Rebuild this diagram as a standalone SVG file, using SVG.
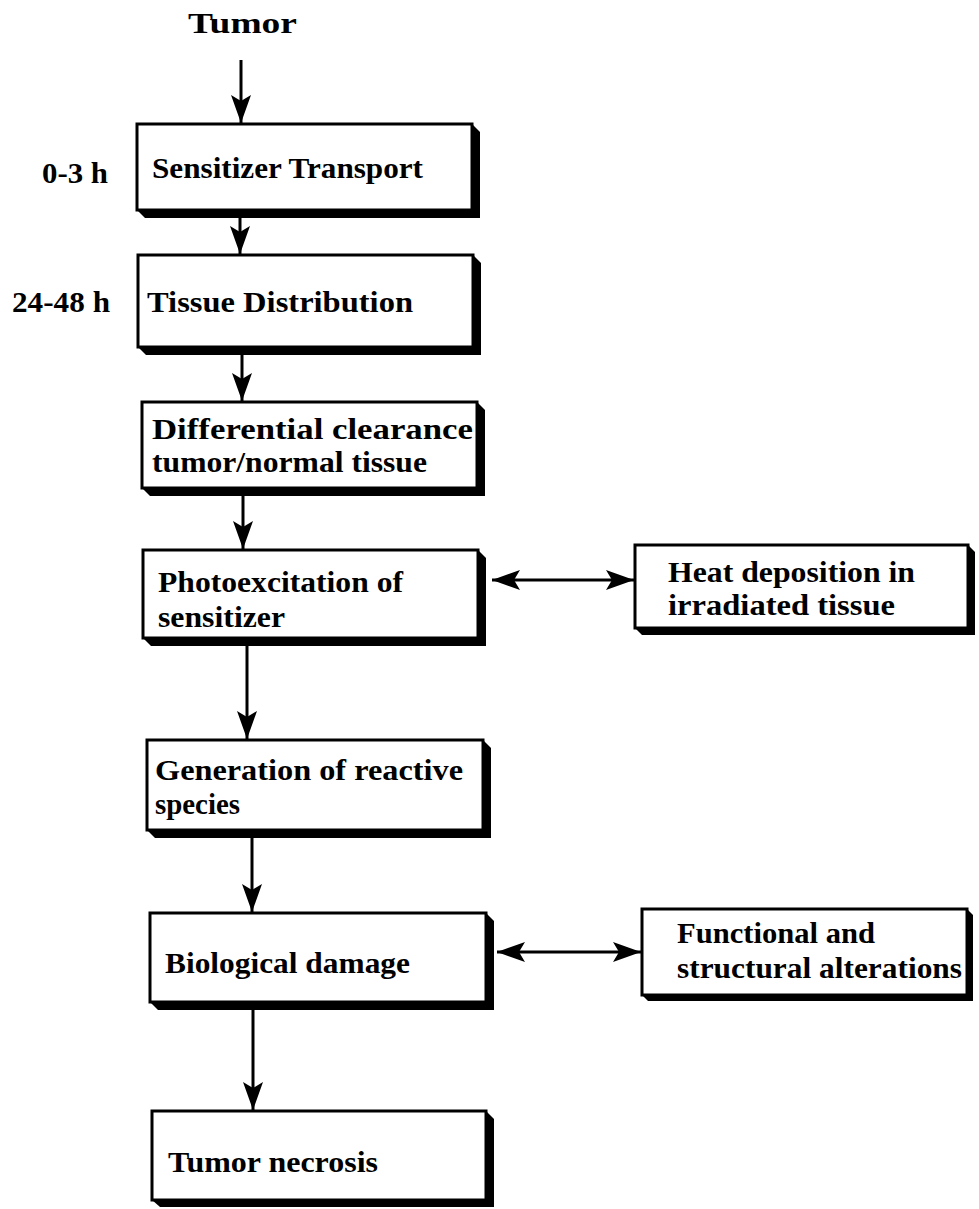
<svg xmlns="http://www.w3.org/2000/svg" width="979" height="1209" viewBox="0 0 979 1209">
<style>
text{font-family:"Liberation Serif","Times New Roman",Times,serif;font-weight:bold;font-size:29px;fill:#000}
.front{fill:#fff;stroke:#000;stroke-width:3}
.ext{fill:#000}
.conn{stroke:#000;stroke-width:3;fill:none}
</style>
<defs>
<marker id="ah" viewBox="0 0 28 20" markerWidth="28" markerHeight="20" refX="28" refY="10" orient="auto-start-reverse" markerUnits="userSpaceOnUse">
<path d="M0,0 L28,10 L0,20 L6,10 Z" fill="#000"/>
</marker>
</defs>
<rect width="979" height="1209" fill="#fff"/>
<g id="labels">
<text x="188" y="33" textLength="109" lengthAdjust="spacingAndGlyphs">Tumor</text>
<text x="42" y="183" textLength="66" lengthAdjust="spacingAndGlyphs">0-3 h</text>
<text x="12" y="312" textLength="98" lengthAdjust="spacingAndGlyphs">24-48 h</text>
</g>
<g id="connectors">
<path class="conn" d="M241,60 V123" marker-end="url(#ah)"/>
<path class="conn" d="M240,218 V254" marker-end="url(#ah)"/>
<path class="conn" d="M242,355 V401" marker-end="url(#ah)"/>
<path class="conn" d="M243,495 V549" marker-end="url(#ah)"/>
<path class="conn" d="M247,646 V739" marker-end="url(#ah)"/>
<path class="conn" d="M252,838 V912" marker-end="url(#ah)"/>
<path class="conn" d="M253,1009 V1110" marker-end="url(#ah)"/>
<path class="conn" d="M492,580 H634" marker-start="url(#ah)" marker-end="url(#ah)"/>
<path class="conn" d="M497,952 H641" marker-start="url(#ah)" marker-end="url(#ah)"/>
</g>
<g id="n-transport">
<polygon class="ext" points="472,124 480,132 480,218 145,218 137,210"/>
<rect class="front" x="137" y="124" width="335" height="86"/>
<text x="152" y="178" textLength="271" lengthAdjust="spacingAndGlyphs">Sensitizer Transport</text>
</g>
<g id="n-distribution">
<polygon class="ext" points="473,255 481,263 481,355 146,355 138,347"/>
<rect class="front" x="138" y="255" width="335" height="92"/>
<text x="147" y="312" textLength="266" lengthAdjust="spacingAndGlyphs">Tissue Distribution</text>
</g>
<g id="n-clearance">
<polygon class="ext" points="477,402 485,410 485,496 150,496 142,488"/>
<rect class="front" x="142" y="402" width="335" height="86"/>
<text x="152" y="439" textLength="321" lengthAdjust="spacingAndGlyphs">Differential clearance</text>
<text x="152" y="472" textLength="275" lengthAdjust="spacingAndGlyphs">tumor/normal tissue</text>
</g>
<g id="n-photo">
<polygon class="ext" points="478,550 486,558 486,646 151,646 143,638"/>
<rect class="front" x="143" y="550" width="335" height="88"/>
<text x="158" y="592" textLength="245" lengthAdjust="spacingAndGlyphs">Photoexcitation of</text>
<text x="158" y="627" textLength="127" lengthAdjust="spacingAndGlyphs">sensitizer</text>
</g>
<g id="n-heat">
<polygon class="ext" points="968,545 975,552 975,635 642,635 635,628"/>
<rect class="front" x="635" y="545" width="333" height="83"/>
<text x="668" y="582" textLength="247" lengthAdjust="spacingAndGlyphs">Heat deposition in</text>
<text x="668" y="615" textLength="227" lengthAdjust="spacingAndGlyphs">irradiated tissue</text>
</g>
<g id="n-generation">
<polygon class="ext" points="483,740 491,748 491,838 155,838 147,830"/>
<rect class="front" x="147" y="740" width="336" height="90"/>
<text x="155" y="780" textLength="308" lengthAdjust="spacingAndGlyphs">Generation of reactive</text>
<text x="155" y="814" textLength="85" lengthAdjust="spacingAndGlyphs">species</text>
</g>
<g id="n-damage">
<polygon class="ext" points="486,913 494,921 494,1010 158,1010 150,1002"/>
<rect class="front" x="150" y="913" width="336" height="89"/>
<text x="165" y="973" textLength="245" lengthAdjust="spacingAndGlyphs">Biological damage</text>
</g>
<g id="n-functional">
<polygon class="ext" points="967,909 973,915 973,1001 648,1001 642,995"/>
<rect class="front" x="642" y="909" width="325" height="86"/>
<text x="677" y="943" textLength="198" lengthAdjust="spacingAndGlyphs">Functional and</text>
<text x="677" y="978" textLength="285" lengthAdjust="spacingAndGlyphs">structural alterations</text>
</g>
<g id="n-necrosis">
<polygon class="ext" points="486,1111 494,1119 494,1207 160,1207 152,1200"/>
<rect class="front" x="152" y="1111" width="334" height="89"/>
<text x="168" y="1172" textLength="210" lengthAdjust="spacingAndGlyphs">Tumor necrosis</text>
</g>
</svg>
